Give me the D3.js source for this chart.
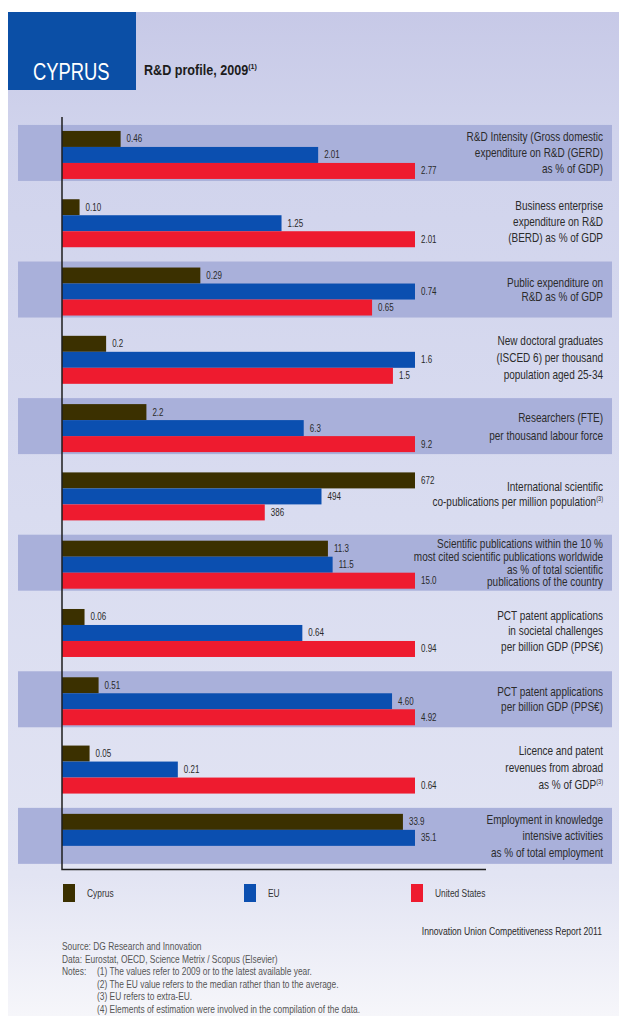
<!DOCTYPE html>
<html>
<head>
<meta charset="utf-8">
<script src="https://cdn.jsdelivr.net/npm/d3@7"></script>
<style>
  html, body { margin: 0; padding: 0; background: #ffffff; }
  svg { display: block; }
  text { font-family: "Liberation Sans", Arial, sans-serif; }
</style>
</head>
<body>
<svg id="chart" width="619" height="1016"></svg>
<script>
// ---------------- DATA ----------------
const categories = [
  ["R&D Intensity (Gross domestic", "expenditure on R&D (GERD)", "as % of GDP)"],
  ["Business enterprise", "expenditure on R&D", "(BERD) as % of GDP"],
  ["Public expenditure on", "R&D as % of GDP"],
  ["New doctoral graduates", "(ISCED 6) per thousand", "population aged 25-34"],
  ["Researchers (FTE)", "per thousand labour force"],
  ["International scientific", "co-publications per million population^(3)"],
  ["Scientific publications within the 10 %", "most cited scientific publications worldwide", "as % of total scientific", "publications of the country"],
  ["PCT patent applications", "in societal challenges", "per billion GDP (PPS€)"],
  ["PCT patent applications", "per billion GDP (PPS€)"],
  ["Licence and patent", "revenues from abroad", "as % of GDP^(3)"],
  ["Employment in knowledge", "intensive activities", "as % of total employment"]
];
const cyprus = [0.46, 0.10, 0.29, 0.2, 2.2, 672, 11.3, 0.06, 0.51, 0.05, 33.9];
const eu     = [2.01, 1.25, 0.74, 1.6, 6.3, 494, 11.5, 0.64, 4.60, 0.21, 35.1];
const us     = [2.77, 2.01, 0.65, 1.5, 9.2, 386, 15.0, 0.94, 4.92, 0.64, null];
const decimals = [2, 2, 2, 1, 1, 0, 1, 2, 2, 2, 1];
const seriesNames = ["Cyprus", "EU", "United States"];
const seriesColors = ["#3b3000", "#0b4fb0", "#ee1b2f"];
const footerLines = [
  ["Source: DG Research and Innovation", ""],
  ["Data:", "Eurostat, OECD, Science Metrix / Scopus (Elsevier)"],
  ["Notes:", "(1) The values refer to 2009 or to the latest available year."],
  ["", "(2) The EU value refers to the median rather than to the average."],
  ["", "(3) EU refers to extra-EU."],
  ["", "(4) Elements of estimation were involved in the compilation of the data."]
];

// ---------------- LAYOUT ----------------
const svg = d3.select("#chart");
const W = 619, H = 1016;
const SX = 0.8; // horizontal condensing (narrow typeface look)

function ctext(parent, x, y, sx) {
  return parent.append("text")
    .attr("transform", `translate(${x},${y}) scale(${sx == null ? SX : sx},1)`);
}

const defs = svg.append("defs");
const grad = defs.append("linearGradient").attr("id", "bg").attr("x1", 0).attr("y1", 0).attr("x2", 0).attr("y2", 1);
grad.append("stop").attr("offset", "0%").attr("stop-color", "#c7c9e7");
grad.append("stop").attr("offset", "12%").attr("stop-color", "#d0d3ec");
grad.append("stop").attr("offset", "50%").attr("stop-color", "#d9dcf0");
grad.append("stop").attr("offset", "86%").attr("stop-color", "#e2e4f3");
grad.append("stop").attr("offset", "100%").attr("stop-color", "#f6f6fa");

svg.append("rect").attr("x", 8).attr("y", 12).attr("width", W - 8).attr("height", H - 12).attr("fill", "url(#bg)");

// header
svg.append("rect").attr("x", 8).attr("y", 12).attr("width", 128).attr("height", 78).attr("fill", "#0b4fa6");
ctext(svg, 33, 80, 0.8).attr("fill", "#ffffff").attr("font-size", 23).text("CYPRUS");
const title = ctext(svg, 144, 75, 0.9).attr("fill", "#1c1c1c")
  .attr("font-size", 14).attr("font-weight", "bold");
title.append("tspan").text("R&D profile, 2009");
title.append("tspan").attr("font-size", 8).attr("dy", -6).text("(1)");

// scales
const x0 = 62, x1 = 415;
const y = d3.scaleBand().domain(d3.range(categories.length)).range([118.8, 870]).padding(0);
const barH = 16;

// bands
svg.append("g").selectAll("rect")
  .data(d3.range(categories.length).filter(i => i % 2 === 0))
  .join("rect")
  .attr("x", 18).attr("width", 594)
  .attr("y", i => y(i) + y.bandwidth() / 2 - 28)
  .attr("height", 56)
  .attr("fill", "#a9b0da");

// bars
const rows = categories.map((c, i) => {
  const vals = [cyprus[i], eu[i], us[i]];
  const max = d3.max(vals.filter(v => v != null));
  const xs = d3.scaleLinear().domain([0, max]).range([x0, x1]);
  return { i, vals, xs };
});

const gBars = svg.append("g");
rows.forEach(r => {
  const cy = y(r.i) + y.bandwidth() / 2;
  r.vals.forEach((v, s) => {
    if (v == null) return;
    const top = cy - 22 + s * barH;
    gBars.append("rect")
      .attr("x", x0).attr("y", top)
      .attr("width", r.xs(v) - x0).attr("height", barH)
      .attr("fill", seriesColors[s]);
    ctext(gBars, r.xs(v) + 6, top + barH / 2 + 3.5)
      .attr("font-size", 10).attr("fill", "#2a2a2a")
      .text(d3.format("." + decimals[r.i] + "f")(v));
  });
});

// category labels
const lineGap = [16, 16, 14, 17, 18, 15, 12.7, 15.5, 15, 17, 16.5];
categories.forEach((lines, i) => {
  const cy = y(i) + y.bandwidth() / 2;
  const gap = lineGap[i];
  const fs = 12.5;
  const t = ctext(svg, 603, 0).attr("text-anchor", "end").attr("font-size", fs).attr("fill", "#2b2b2b");
  lines.forEach((ln, k) => {
    const yy = cy + (k - (lines.length - 1) / 2) * gap + 4.5;
    const parts = ln.split("^");
    t.append("tspan").attr("x", 0).attr("y", yy).text(parts[0]);
    if (parts[1]) t.append("tspan").attr("font-size", 7).attr("dy", -5).text(parts[1]);
  });
});

// axis lines
svg.append("path")
  .attr("d", d3.line()([[x0, 117], [x0, 869.5], [486, 869.5]]))
  .attr("fill", "none").attr("stroke", "#1e1e1e").attr("stroke-width", 1.5);

// legend
const legX = [63, 244, 411];
const legend = svg.append("g").selectAll("g").data(seriesNames).join("g")
  .attr("transform", (d, i) => `translate(${legX[i]},884)`);
legend.append("rect").attr("width", 12).attr("height", 18).attr("fill", (d, i) => seriesColors[i]);
legend.each(function(d) {
  ctext(d3.select(this), 24, 13).attr("font-size", 10.5).attr("fill", "#333").text(d);
});

// footer
ctext(svg, 602, 935).attr("text-anchor", "end")
  .attr("font-size", 10.8).attr("fill", "#2a2a2a").text("Innovation Union Competitiveness Report 2011");
const contentX = [83, 85, 97, 97, 97, 97];
footerLines.forEach((ln, k) => {
  const yy = 950 + k * 12.6;
  if (ln[0]) ctext(svg, 62, yy).attr("font-size", 10.5).attr("fill", "#555").text(ln[0]);
  if (ln[1]) ctext(svg, contentX[k], yy).attr("font-size", 10.5).attr("fill", "#555").text(ln[1]);
});
</script>
</body>
</html>
